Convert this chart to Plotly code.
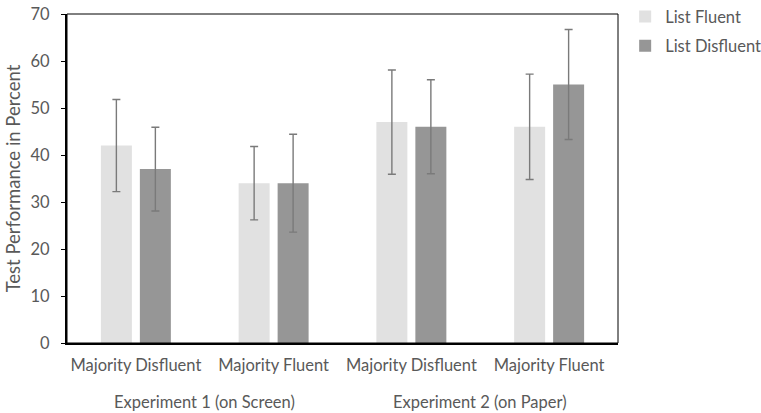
import plotly.graph_objects as go

experiments = ["Experiment 1 (on Screen)", "Experiment 1 (on Screen)",
               "Experiment 2 (on Paper)", "Experiment 2 (on Paper)"]
conditions = ["Majority Disfluent", "Majority Fluent", "Majority Disfluent", "Majority Fluent"]

fluent_values = [42, 34, 47, 46]
fluent_errors = [9.8, 7.8, 11.1, 11.2]
disfluent_values = [37, 34, 46, 55]
disfluent_errors = [8.9, 10.4, 10.0, 11.7]

font_family = "Lato, Open Sans, sans-serif"
text_color = "#595959"
err_color = "#7a7a7a"
fs = 16.5

positions = list(range(len(conditions)))

fig = go.Figure()
fig.add_trace(go.Bar(
    x=positions, y=fluent_values, name="List Fluent",
    marker=dict(color="#e1e1e1", line=dict(width=0)),
    error_y=dict(type="data", array=fluent_errors, color=err_color, thickness=1.4, width=4),
    legendgroup="a",
))
fig.add_trace(go.Bar(
    x=positions, y=disfluent_values, name="List Disfluent",
    marker=dict(color="#969696", line=dict(width=0)),
    error_y=dict(type="data", array=disfluent_errors, color=err_color, thickness=1.4, width=4),
    legendgroup="b",
))

# experiment labels centred under their conditions
annotations = []
for exp in dict.fromkeys(experiments):
    idx = [i for i, e in enumerate(experiments) if e == exp]
    annotations.append(dict(
        x=sum(idx) / len(idx), xref="x", y=-0.18, yref="paper", yanchor="middle",
        text=exp, showarrow=False, font=dict(size=fs, color=text_color),
    ))

fig.update_layout(
    width=761, height=413,
    margin=dict(l=67, r=143, t=14, b=70, autoexpand=False),
    paper_bgcolor="white", plot_bgcolor="white",
    barmode="group", bargap=0.434, bargroupgap=0.205,
    font=dict(family=font_family, size=fs, color=text_color),
    legend=dict(x=1.013, y=1.045, xanchor="left", yanchor="top",
                font=dict(size=fs, color=text_color), tracegroupgap=5),
    showlegend=True,
    annotations=annotations,
    shapes=[dict(type="rect", xref="paper", yref="paper", x0=0, x1=1, y0=0, y1=1,
                 line=dict(color="black", width=1), layer="above")],
)

fig.update_yaxes(
    range=[0, 70], dtick=10, showgrid=False, zeroline=False,
    showline=True, linecolor="black", linewidth=2,
    ticks="outside", ticklen=4, tickcolor="black", ticklabelstandoff=8,
    title=dict(text="Test Performance in Percent", font=dict(size=18.5, color=text_color), standoff=5),
    tickfont=dict(size=fs, color=text_color),
)
fig.update_xaxes(
    range=[-0.5, len(conditions) - 0.5], tickvals=positions, ticktext=conditions,
    showline=True, linecolor="black", linewidth=2,
    showgrid=False, ticks="", ticklabelstandoff=6,
    tickfont=dict(size=fs, color=text_color),
)

fig.write_html("out.html")
